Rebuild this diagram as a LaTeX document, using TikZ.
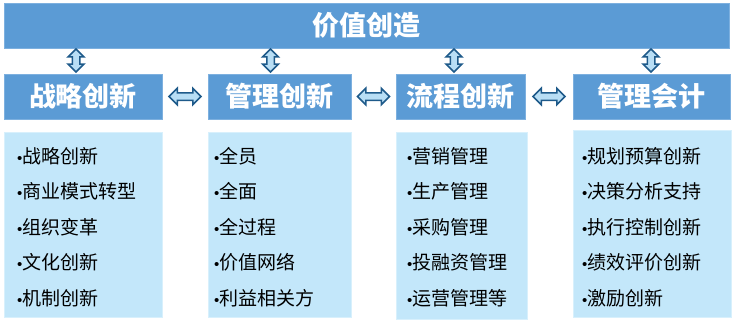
\documentclass[tikz,border=0pt]{standalone}
\usepackage{fontspec}
\setmainfont{Liberation Sans}
\newfontfamily\cjk{Noto Sans CJK SC}
\newfontfamily\latinbul{Liberation Sans}
\usetikzlibrary{shapes.arrows,calc}
\definecolor{barblue}{HTML}{5B9BD5}
\definecolor{barline}{HTML}{7DB0DF}
\definecolor{bodyfill}{HTML}{C3E7FA}
\definecolor{bodyline}{HTML}{D8F0FC}
\definecolor{arrfill}{HTML}{B8DEF5}
\definecolor{arrline}{HTML}{1E5A8A}
\newcommand{\bul}{{\latinbul\fontsize{15}{15}\selectfont •}}
\tikzset{
  bar/.style={fill=barblue, draw=barline, line width=0.8pt, inner sep=0pt, text=white,
    font=\cjk\bfseries\fontsize{27}{27}\selectfont},
  bodybox/.style={fill=bodyfill, draw=bodyline, line width=0.8pt, inner sep=0pt},
  line/.style={anchor=west, inner sep=0pt, font=\cjk\fontsize{19}{19}\selectfont, text=black},
  varrow/.style={double arrow, shape border rotate=90, fill=arrfill, draw=arrline, line width=1.5pt,
    inner sep=3pt, double arrow head extend=4.2pt, minimum height=23pt},
  harrow/.style={double arrow, fill=arrfill, draw=arrline, line width=1.5pt,
    inner sep=3pt, double arrow head extend=4.5pt, minimum height=32pt}
}
\begin{document}
\begin{tikzpicture}[x=1pt,y=-1pt]
\useasboundingbox (0,0) rectangle (732,322);
\node[bar, minimum width=725pt, minimum height=45pt] (top) at (366.5,25.5) {价值创造};
\node[bar, minimum width=158pt, minimum height=45pt] (h1) at (83,96.5) {战略创新};
\node[bar, minimum width=143pt, minimum height=45pt] (h2) at (279.5,96.5) {管理创新};
\node[bar, minimum width=129pt, minimum height=45pt] (h3) at (460.5,96.5) {流程创新};
\node[bar, minimum width=157pt, minimum height=45pt] (h4) at (651.5,96.5) {管理会计};
\node[bodybox, minimum width=158pt, minimum height=185pt] (b1) at (83,224.5) {};
\node[bodybox, minimum width=143pt, minimum height=185pt] (b2) at (279.5,224.5) {};
\node[bodybox, minimum width=131pt, minimum height=187pt] (b3) at (461.5,225.5) {};
\node[bodybox, minimum width=158pt, minimum height=187pt] (b4) at (652,223.5) {};
% vertical arrows
\node[varrow] (v1) at (76,60.5) {};
\node[varrow] (v2) at (270.5,60.5) {};
\node[varrow] (v3) at (454,60.5) {};
\node[varrow] (v4) at (651,60.5) {};
% horizontal arrows
\node[harrow] (a12) at ($(h1.east)!0.5!(h2.west)$) {};
\node[harrow] (a23) at ($(h2.east)!0.5!(h3.west)$) {};
\node[harrow] (a34) at ($(h3.east)!0.5!(h4.west)$) {};
% texts
\node[line] (t11) at (17,156) {\bul 战略创新};
\node[line] (t12) at (17,191.5) {\bul 商业模式转型};
\node[line] (t13) at (17,227) {\bul 组织变革};
\node[line] (t14) at (17,262.5) {\bul 文化创新};
\node[line] (t15) at (17,298) {\bul 机制创新};
\node[line] (t21) at (214,156) {\bul 全员};
\node[line] (t22) at (214,191.5) {\bul 全面};
\node[line] (t23) at (214,227) {\bul 全过程};
\node[line] (t24) at (214,262.5) {\bul 价值网络};
\node[line] (t25) at (214,298) {\bul 利益相关方};
\node[line] (t31) at (407,156) {\bul 营销管理};
\node[line] (t32) at (407,191.5) {\bul 生产管理};
\node[line] (t33) at (407,227) {\bul 采购管理};
\node[line] (t34) at (407,262.5) {\bul 投融资管理};
\node[line] (t35) at (407,298) {\bul 运营管理等};
\node[line] (t41) at (582,156) {\bul 规划预算创新};
\node[line] (t42) at (582,191.5) {\bul 决策分析支持};
\node[line] (t43) at (582,227) {\bul 执行控制创新};
\node[line] (t44) at (582,262.5) {\bul 绩效评价创新};
\node[line] (t45) at (582,298) {\bul 激励创新};
\end{tikzpicture}
\end{document}
